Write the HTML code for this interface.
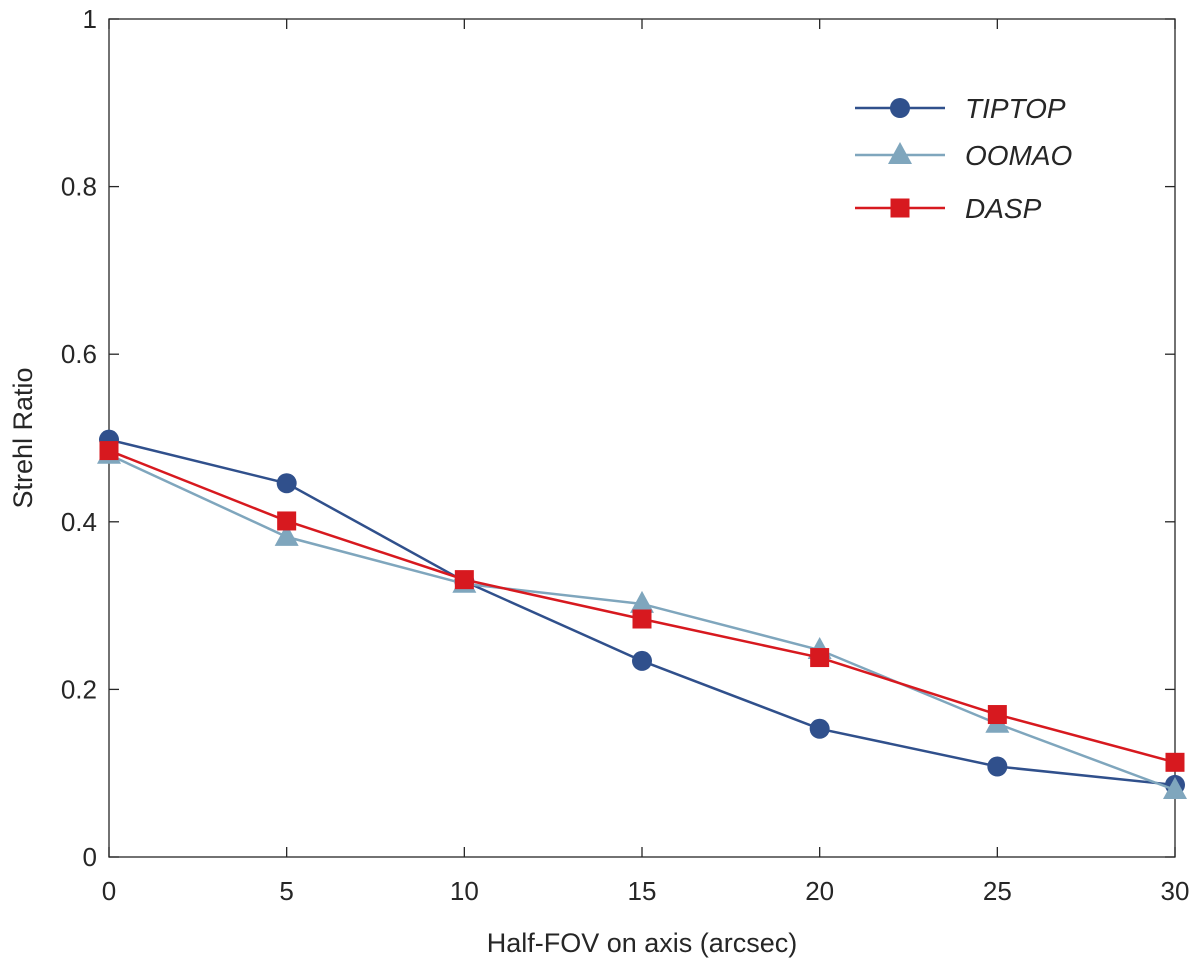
<!DOCTYPE html>
<html><head><meta charset="utf-8"><style>
html,body{margin:0;padding:0;background:#fff;}
svg{display:block;font-family:"Liberation Sans",Arial,sans-serif;}
</style></head><body>
<svg id="chart" width="1200" height="968"></svg>
<script>
const xTicks=[0,5,10,15,20,25,30];
const yTicks=[0,0.2,0.4,0.6,0.8,1];
const yTickLabels=["0","0.2","0.4","0.6","0.8","1"];
const fov=[0,5,10,15,20,25,30];
const tiptop=[0.498,0.446,0.329,0.234,0.153,0.108,0.086];
const oomao=[0.480,0.382,0.326,0.302,0.247,0.159,0.080];
const dasp=[0.485,0.401,0.331,0.284,0.238,0.170,0.113];
const seriesNames=["TIPTOP","OOMAO","DASP"];

const L=109,R=1175,T=19,B=857;
const X=v=>L+(v-0)/(30-0)*(R-L);
const Y=v=>B-(v-0)/(1-0)*(B-T);
const svg=document.getElementById('chart');
const NS="http://www.w3.org/2000/svg";
function mk(tag,attrs,parent){const e=document.createElementNS(NS,tag);for(const k in attrs)e.setAttribute(k,attrs[k]);(parent||svg).appendChild(e);return e;}

const axes=mk('g',{});


const box=mk('rect',{x:L,y:T,width:R-L,height:B-T,fill:'none',stroke:'#262626','stroke-width':1.3},axes);


xTicks.forEach(v=>{
  mk('line',{x1:X(v),x2:X(v),y1:B,y2:B-10,stroke:'#262626','stroke-width':1.3},axes);
  mk('line',{x1:X(v),x2:X(v),y1:T,y2:T+10,stroke:'#262626','stroke-width':1.3},axes);
  const t=mk('text',{x:X(v),y:B+43,'text-anchor':'middle','font-size':26,fill:'#262626'},axes);
  t.textContent=v;
  
  
});
yTicks.forEach((v,i)=>{
  mk('line',{x1:L,x2:L+10,y1:Y(v),y2:Y(v),stroke:'#262626','stroke-width':1.3},axes);
  mk('line',{x1:R,x2:R-10,y1:Y(v),y2:Y(v),stroke:'#262626','stroke-width':1.3},axes);
  const t=mk('text',{x:L-12,y:Y(v)+9,'text-anchor':'end','font-size':26,fill:'#262626'},axes);
  t.textContent=yTickLabels[i];
  
  
});
const xt=mk('text',{x:(L+R)/2,y:952,'text-anchor':'middle','font-size':27,fill:'#262626'});
xt.textContent='Half-FOV on axis (arcsec)';


const yt=mk('text',{x:0,y:0,'text-anchor':'middle','font-size':27,fill:'#262626',transform:'translate(32,438) rotate(-90)'});
yt.textContent='Strehl Ratio';



const colors=['#30508c','#7fa6bd','#d7191f'];
const shapes=['circle','triangle','square'];
function marker(g,x,y,s,c){
  if(s==='circle')return mk('circle',{cx:x,cy:y,r:10,fill:c},g);
  if(s==='triangle')return mk('polygon',{points:`${x},${y-13} ${x-12},${y+9} ${x+12},${y+9}`,fill:c},g);
  return mk('rect',{x:x-9.5,y:y-9.5,width:19,height:19,fill:c},g);
}
[tiptop,oomao,dasp].forEach((vals,si)=>{
  const g=mk('g',{});
  
  
  mk('polyline',{points:vals.map((v,i)=>X(fov[i])+','+Y(v)).join(' '),fill:'none',stroke:colors[si],'stroke-width':2.5},g);
  vals.forEach((v,i)=>{
    const m=marker(g,X(fov[i]),Y(v),shapes[si],colors[si]);
    
    
  });
});

const leg=mk('g',{});


const ly=[108,155,208];
seriesNames.forEach((n,i)=>{
  const e=mk('g',{},leg);
  
  
  mk('line',{x1:855,x2:945,y1:ly[i],y2:ly[i],stroke:colors[i],'stroke-width':2.5},e);
  marker(e,900,ly[i],shapes[i],colors[i]);
  const t=mk('text',{x:965,y:ly[i]+10,'font-size':28,'font-style':'italic',fill:'#262626'},e);
  t.textContent=n;
});
</script>
</body></html>
